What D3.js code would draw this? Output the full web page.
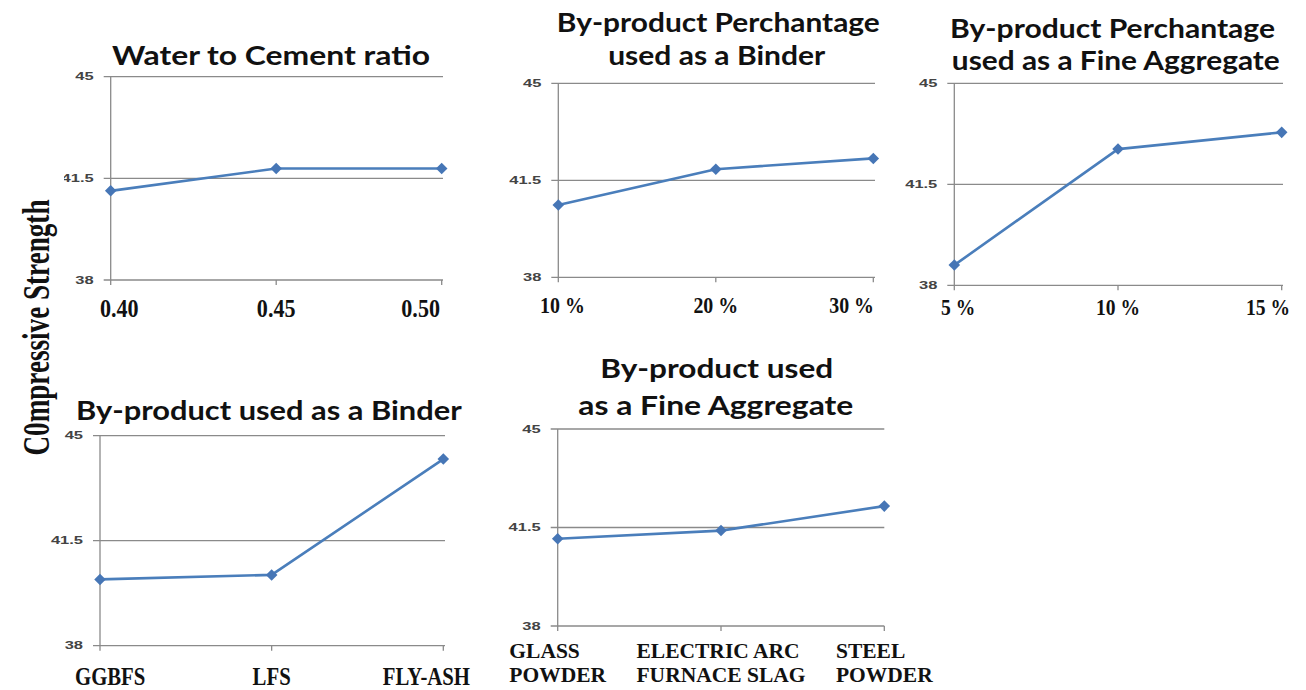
<!DOCTYPE html>
<html>
<head>
<meta charset="utf-8">
<script src="https://cdn.jsdelivr.net/npm/d3@7"></script>
<style>
  html, body { margin: 0; padding: 0; background: #ffffff; }
  svg { display: block; }
</style>
</head>
<body>
<svg id="chart" width="1306" height="690"></svg>
<script>
// ---- data ----
const yTickValues = [38, 41.5, 45];
const yDomain = [38, 45];

const wcCategories = ["0.40", "0.45", "0.50"];
const wcStrength = [41.07, 41.84, 41.84];

const binderPctCategories = ["10 %", "20 %", "30 %"];
const binderPctStrength = [40.61, 41.90, 42.29];

const fineAggPctCategories = ["5 %", "10 %", "15 %"];
const fineAggPctStrength = [38.70, 42.72, 43.30];

const binderCategories = ["GGBFS", "LFS", "FLY-ASH"];
const binderStrength = [40.21, 40.36, 44.22];

const fineAggCategories = [["GLASS", "POWDER"], ["ELECTRIC ARC", "FURNACE SLAG"], ["STEEL", "POWDER"]];
const fineAggStrength = [41.10, 41.39, 42.26];

const yAxisTitle = "C0mpressive Strength";

// ---- layout ----
const panels = [
  {
    title: [{ text: "Water to Cement ratio", cx: 271, y: 65, w: 318 }],
    cats: wcCategories, vals: wcStrength,
    left: 110.7, right: 441.7, gridRight: 443, top: 76.7, bottom: 280,
    label: { size: 26, sx: 0.85, y: 317, lo: 100, hi: 440 },
    clipLeft: 64
  },
  {
    title: [
      { text: "By-product Perchantage", cx: 718.3, y: 31.7, w: 323 },
      { text: "used as a Binder", cx: 716.7, y: 65, w: 217 }
    ],
    cats: binderPctCategories, vals: binderPctStrength,
    left: 558.3, right: 873.3, gridRight: 875, top: 83.3, bottom: 277.3,
    label: { size: 24, sx: 0.83, y: 313, lo: 540, hi: 874 }
  },
  {
    title: [
      { text: "By-product Perchantage", cx: 1112.5, y: 38.3, w: 325 },
      { text: "used as a Fine Aggregate", cx: 1115.8, y: 70, w: 328 }
    ],
    cats: fineAggPctCategories, vals: fineAggPctStrength,
    left: 954.3, right: 1281.7, gridRight: 1283, top: 83.3, bottom: 285.3,
    label: { size: 23, sx: 0.85, y: 315, lo: 941, hi: 1290 }
  },
  {
    title: [{ text: "By-product used as a Binder", cx: 268.8, y: 420, w: 385.7 }],
    cats: binderCategories, vals: binderStrength,
    left: 100, right: 443.3, gridRight: 445, top: 435.7, bottom: 645.7,
    label: { size: 25, sx: 0.83, y: 685, lo: 75, hi: 470 }
  },
  {
    title: [
      { text: "By-product used", cx: 716.7, y: 378.3, w: 233 },
      { text: "as a Fine Aggregate", cx: 715.8, y: 415, w: 275 }
    ],
    cats: fineAggCategories, vals: fineAggStrength,
    left: 557.7, right: 884.3, gridRight: 884.3, top: 429, bottom: 626,
    label: { size: 21.5, sx: 1.0, y: 658.3, lineGap: 23.4, multi: true }
  }
];

const LINE_COLOR = "#4a7ebb";
const MARKER_COLOR = "#4676b6";
const GRID_COLOR = "#8a8a8a";
const TITLE_FONT = "Lato, 'Open Sans', sans-serif";
const SERIF_FONT = "'Liberation Serif', 'Times New Roman', serif";
const TICK_FONT = "'Liberation Sans', Arial, sans-serif";

const svg = d3.select("#chart");
const defs = svg.append("defs");

panels.forEach((p, i) => {
  let g = svg.append("g").attr("class", "panel panel-" + i);
  if (p.clipLeft !== undefined) {
    defs.append("clipPath").attr("id", "clip-" + i)
      .append("rect").attr("x", p.clipLeft).attr("y", 0).attr("width", 1306).attr("height", 690);
    g.attr("clip-path", "url(#clip-" + i + ")");
  }

  const x = d3.scalePoint().domain(d3.range(p.cats.length)).range([p.left, p.right]).padding(0);
  const y = d3.scaleLinear().domain(yDomain).range([p.bottom, p.top]);

  // title
  p.title.forEach(t => {
    g.append("text")
      .attr("x", t.cx).attr("y", t.y)
      .attr("text-anchor", "middle")
      .attr("font-family", TITLE_FONT).attr("font-weight", 700)
      .attr("font-size", 27).attr("fill", "#111")
      .attr("textLength", t.w).attr("lengthAdjust", "spacingAndGlyphs")
      .text(t.text);
  });

  // horizontal gridlines (incl. the category axis at 38)
  g.append("g").selectAll("line").data(yTickValues).join("line")
    .attr("x1", p.left - 7).attr("x2", p.gridRight)
    .attr("y1", d => y(d)).attr("y2", d => y(d))
    .attr("stroke", GRID_COLOR).attr("stroke-width", 1.3);

  // value axis line
  g.append("line")
    .attr("x1", p.left).attr("x2", p.left)
    .attr("y1", y(yDomain[1])).attr("y2", y(yDomain[0]))
    .attr("stroke", GRID_COLOR).attr("stroke-width", 1.3);

  // category tick marks
  g.append("g").selectAll("line").data(d3.range(p.cats.length)).join("line")
    .attr("x1", d => x(d)).attr("x2", d => x(d))
    .attr("y1", y(yDomain[0])).attr("y2", y(yDomain[0]) + 5)
    .attr("stroke", GRID_COLOR).attr("stroke-width", 1.3);

  // value tick labels
  g.append("g").selectAll("text").data(yTickValues).join("text")
    .attr("transform", d => `translate(${p.left - 17},${y(d) + 3.6}) scale(1.65,1)`)
    .attr("text-anchor", "end")
    .attr("font-family", TICK_FONT).attr("font-size", 10).attr("font-weight", 700)
    .attr("fill", "#444")
    .text(d => String(d));

  // category labels
  const L = p.label;
  if (L.multi) {
    p.cats.forEach((lines, k) => {
      const grp = g.append("g");
      const texts = lines.map((s, j) => grp.append("text")
        .attr("y", L.y + j * L.lineGap)
        .attr("font-family", SERIF_FONT).attr("font-weight", 700)
        .attr("font-size", L.size).attr("fill", "#111")
        .text(s));
      const w = d3.max(texts, t => t.node().getComputedTextLength());
      texts.forEach(t => t.attr("x", x(k) - w / 2));
    });
  } else {
    p.cats.forEach((s, k) => {
      const t = g.append("text")
        .attr("font-family", SERIF_FONT).attr("font-weight", 700)
        .attr("font-size", L.size).attr("fill", "#111")
        .text(s);
      const w = t.node().getComputedTextLength() * L.sx;
      let x0 = x(k) - w / 2;
      if (x0 < L.lo) x0 = L.lo;
      if (x0 + w > L.hi) x0 = L.hi - w;
      t.attr("transform", `translate(${x0},${L.y}) scale(${L.sx},1)`);
    });
  }

  // series line
  const line = d3.line().x((d, k) => x(k)).y(d => y(d));
  g.append("path")
    .datum(p.vals)
    .attr("d", line)
    .attr("fill", "none")
    .attr("stroke", LINE_COLOR).attr("stroke-width", 2.6)
    .attr("stroke-linejoin", "round");

  // diamond markers
  g.append("g").selectAll("path").data(p.vals).join("path")
    .attr("transform", (d, k) => `translate(${x(k)},${y(d)})`)
    .attr("d", d3.symbol(d3.symbolDiamond2, 85))
    .attr("fill", MARKER_COLOR);
});

// shared value-axis title
svg.append("text")
  .attr("transform", "translate(49,327.5) rotate(-90)")
  .attr("text-anchor", "middle")
  .attr("font-family", SERIF_FONT).attr("font-weight", 700)
  .attr("font-size", 37).attr("fill", "#111")
  .attr("textLength", 256).attr("lengthAdjust", "spacingAndGlyphs")
  .text(yAxisTitle);
</script>
</body>
</html>
